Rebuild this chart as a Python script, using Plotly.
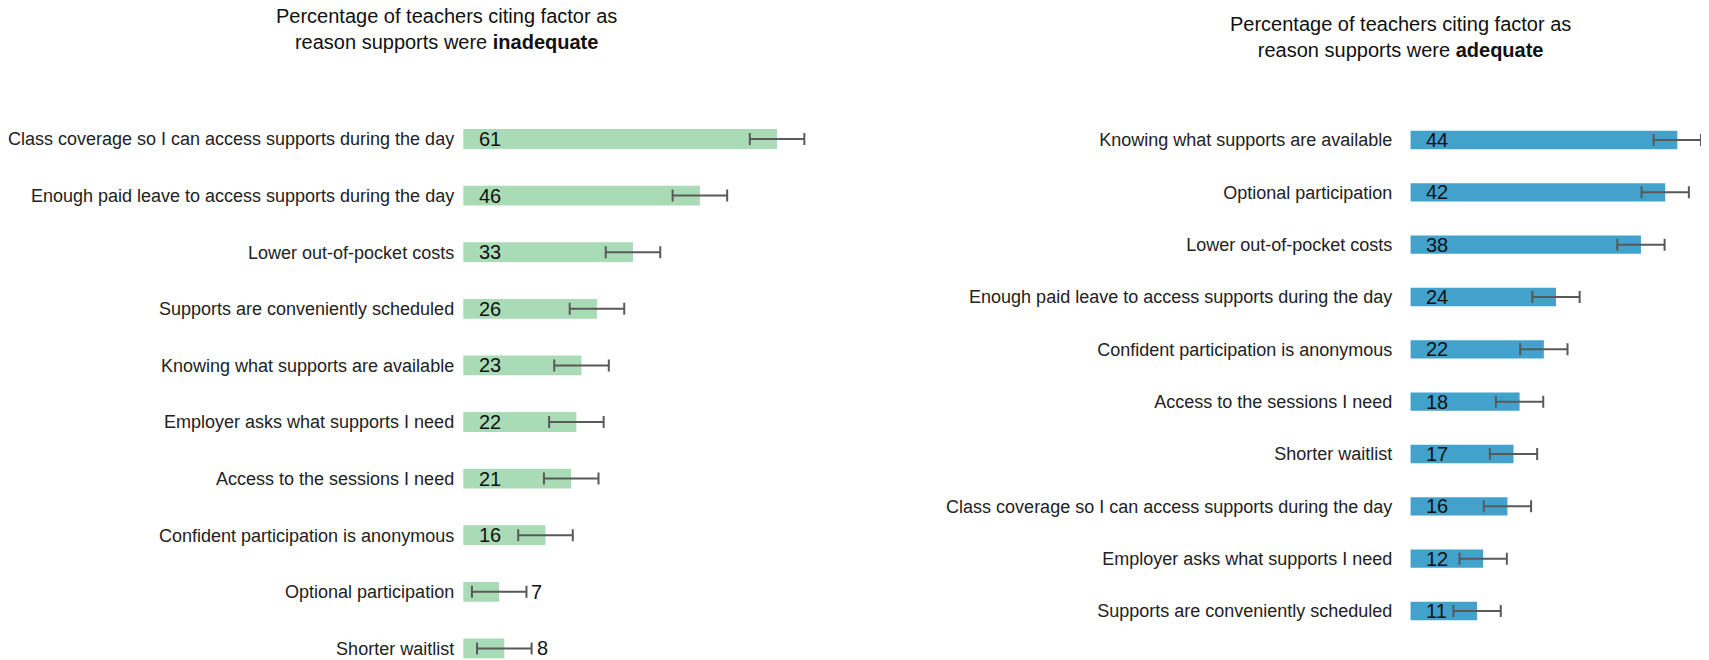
import plotly.graph_objects as go

# ---- data ----
left_categories = [
    "Class coverage so I can access supports during the day",
    "Enough paid leave to access supports during the day",
    "Lower out-of-pocket costs",
    "Supports are conveniently scheduled",
    "Knowing what supports are available",
    "Employer asks what supports I need",
    "Access to the sessions I need",
    "Confident participation is anonymous",
    "Optional participation",
    "Shorter waitlist",
]
left_values = [61, 46, 33, 26, 23, 22, 21, 16, 7, 8]
left_errors = [5.3, 5.3, 5.3, 5.3, 5.3, 5.3, 5.3, 5.3, 5.3, 5.3]

right_categories = [
    "Knowing what supports are available",
    "Optional participation",
    "Lower out-of-pocket costs",
    "Enough paid leave to access supports during the day",
    "Confident participation is anonymous",
    "Access to the sessions I need",
    "Shorter waitlist",
    "Class coverage so I can access supports during the day",
    "Employer asks what supports I need",
    "Supports are conveniently scheduled",
]
right_values = [44, 42, 38, 24, 22, 18, 17, 16, 12, 11]
right_errors = [3.9, 3.9, 3.9, 3.9, 3.9, 3.9, 3.9, 3.9, 3.9, 3.9]

left_title = "Percentage of teachers citing factor as<br>reason supports were <b>inadequate</b>"
right_title = "Percentage of teachers citing factor as<br>reason supports were <b>adequate</b>"

# ---- style ----
FONT = "Liberation Sans, Arial, sans-serif"
GREEN = "#a9dcb6"
BLUE = "#42a2cb"
ERR = "#595959"
OFF = 8  # page body margin
W, H = 1709 - OFF, 660 - OFF


def px(x):
    return (x - OFF) / W


def py(y):
    return 1 - (y - OFF) / H


fig = go.Figure()

fig.add_trace(go.Bar(
    x=left_values, y=left_categories, orientation="h",
    marker=dict(color=GREEN, line=dict(width=0)), width=0.35,
    error_x=dict(type="data", array=left_errors, color=ERR, thickness=2, width=6),
    xaxis="x", yaxis="y", hoverinfo="x+y", showlegend=False,
))
fig.add_trace(go.Bar(
    x=right_values, y=right_categories, orientation="h",
    marker=dict(color=BLUE, line=dict(width=0)), width=0.35,
    error_x=dict(type="data", array=right_errors, color=ERR, thickness=2, width=6),
    xaxis="x2", yaxis="y2", hoverinfo="x+y", showlegend=False,
))

annotations = []
for cats, vals, errs, xr, yr in [
    (left_categories, left_values, left_errors, "x", "y"),
    (right_categories, right_values, right_errors, "x2", "y2"),
]:
    for c, v, e in zip(cats, vals, errs):
        if v < 10:
            annotations.append(dict(x=v + e, y=c, xref=xr, yref=yr, text=str(v),
                                    showarrow=False, xanchor="left", xshift=3,
                                    font=dict(family=FONT, size=20, color="#111")))
        else:
            annotations.append(dict(x=0, y=c, xref=xr, yref=yr, text=str(v),
                                    showarrow=False, xanchor="left", xshift=14,
                                    font=dict(family=FONT, size=20, color="#111")))

annotations.append(dict(x=px(445), y=py(29), xref="paper", yref="paper", text=left_title,
                        showarrow=False, xanchor="center", yanchor="middle", align="center",
                        font=dict(family=FONT, size=20, color="#111")))
annotations.append(dict(x=px(1400), y=py(36.5), xref="paper", yref="paper", text=right_title,
                        showarrow=False, xanchor="center", yanchor="middle", align="center",
                        font=dict(family=FONT, size=20, color="#111")))

axis_common = dict(showgrid=False, zeroline=False, showline=False, showticklabels=False, ticks="")

L0 = 461.7
fig.update_layout(
    width=W, height=H,
    margin=dict(l=0, r=0, t=0, b=0),
    paper_bgcolor="white", plot_bgcolor="white",
    xaxis=dict(domain=[px(L0), px(L0 + 70 * 5.152)], range=[0, 70], **axis_common),
    xaxis2=dict(domain=[px(1410), 1.0], range=[0, (1709 - 1410) / 6.075], **axis_common),
    yaxis=dict(anchor="x", domain=[0, 1], type="category", categoryorder="array",
               categoryarray=left_categories,
               range=[(H - (139 - OFF)) / 56.6, -(139 - OFF) / 56.6],
               showgrid=False, zeroline=False, showline=False, ticks="",
               ticklabelstandoff=8, tickfont=dict(family=FONT, size=18, color="#222")),
    yaxis2=dict(anchor="x2", domain=[0, 1], type="category", categoryorder="array",
                categoryarray=right_categories,
                range=[(H - (140 - OFF)) / 52.33, -(140 - OFF) / 52.33],
                showgrid=False, zeroline=False, showline=False, ticks="",
                ticklabelstandoff=17, tickfont=dict(family=FONT, size=18, color="#222")),
    annotations=annotations,
)

fig.write_html("out.html")
